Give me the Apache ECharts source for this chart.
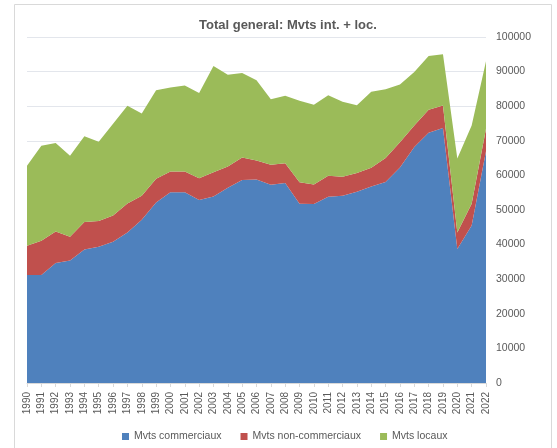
<!DOCTYPE html>
<html><head><meta charset="utf-8">
<script src="https://cdn.jsdelivr.net/npm/echarts@6/dist/echarts.min.js"></script>
<style>html,body{margin:0;padding:0;background:#fff}#c{width:557px;height:448px}</style>
</head><body><div id="c"></div>
<script>
const years = ['1990','1991','1992','1993','1994','1995','1996','1997','1998','1999','2000','2001','2002','2003','2004','2005','2006','2007','2008','2009','2010','2011','2012','2013','2014','2015','2016','2017','2018','2019','2020','2021','2022'];
const commerciaux = [31200,31200,34700,35400,38600,39400,40800,43500,47200,52200,55100,55100,52900,53900,56400,58700,58800,57300,57800,51800,51700,53800,54100,55300,56800,58100,62300,68200,72300,73700,38700,45500,67000];
const nonCommerciaux = [8500,9900,9100,6900,7900,7400,7600,8400,6900,6800,6000,6000,6300,7000,6200,6500,5500,5800,5700,6200,5700,6100,5500,5400,5400,6900,7300,6200,6700,6500,4800,6300,6500];
const locaux = [23100,27500,25600,23400,24800,22900,26500,28200,23800,25600,24300,24900,24600,30700,26500,24400,23200,18900,19500,23600,23000,23300,21700,19600,22000,19900,16700,15500,15500,14800,21400,22600,19500];
const yTicks = {min:0, max:100000, interval:10000};
const title = 'Total general: Mvts int. + loc.';
const names = ['Mvts commerciaux','Mvts non-commerciaux','Mvts locaux'];
const colors = ['#4f81bd','#c0504d','#9bbb59'];

const chart = echarts.init(document.getElementById('c'), null, {renderer:'canvas'});
const font = 'Liberation Sans, Arial, sans-serif';
const mk = (name, data, color) => ({
  name, type:'line', stack:'total', data, symbol:'none',
  lineStyle:{width:0}, areaStyle:{color, opacity:1}, itemStyle:{color}
});
chart.setOption({
  animation:false,
  textStyle:{fontFamily:font},
  graphic:[{type:'rect', shape:{x:14.5,y:4.5,width:537,height:470}, style:{fill:'none', stroke:'#d9d9d9', lineWidth:1}, silent:true}],
  title:{text:title, left:194, top:14, textStyle:{fontSize:13, fontWeight:'bold', color:'#595959', fontFamily:font}},
  legend:{bottom:1, left:117, itemWidth:7, itemHeight:7, itemGap:19, icon:'rect',
    textStyle:{fontSize:10.5, color:'#595959', fontFamily:font}, data:names},
  grid:{left:27, right:71, top:37, bottom:65},
  xAxis:{type:'category', data:years, boundaryGap:false,
    axisLine:{lineStyle:{color:'#d9d9d9'}},
    axisTick:{show:true, length:4, lineStyle:{color:'#d9d9d9'}},
    axisLabel:{rotate:90, fontSize:10, color:'#595959', margin:9, interval:0, fontFamily:font}},
  yAxis:{type:'value', position:'right', min:yTicks.min, max:yTicks.max, interval:yTicks.interval,
    axisLine:{show:false}, axisTick:{show:false},
    splitLine:{lineStyle:{color:'#e3e6ec'}},
    axisLabel:{fontSize:10.5, color:'#595959', margin:10, fontFamily:font, formatter:v=>String(v)}},
  series:[mk(names[0], commerciaux, colors[0]), mk(names[1], nonCommerciaux, colors[1]), mk(names[2], locaux, colors[2])]
});
</script></body></html>
